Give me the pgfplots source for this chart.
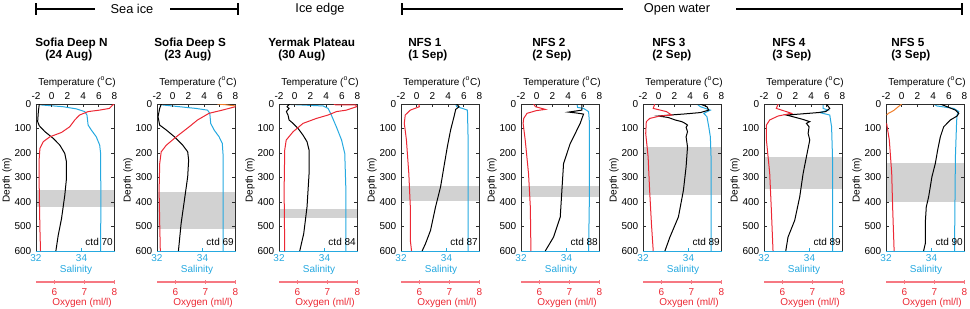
\documentclass[border=0pt]{standalone}
\usepackage{fontspec}
\setmainfont{Liberation Sans}
\usepackage{pgfplots}
\pgfplotsset{compat=1.18}
\definecolor{salblue}{RGB}{38,169,224}
\definecolor{oxred}{RGB}{236,40,52}
\definecolor{oxpink}{RGB}{246,120,130}
\definecolor{orng}{RGB}{240,125,40}
\definecolor{bandgray}{RGB}{210,210,210}
\definecolor{frame}{RGB}{45,45,45}
\pgfplotsset{
  base/.style={scale only axis, width=58.875pt, height=110.25pt, anchor=north west,
    ymin=0, ymax=600, y dir=reverse, /pgf/number format/assume math mode=true,
    tick label style={font=\fontsize{7.5}{8}\selectfont}, major tick length=2.5pt,
    every tick/.style={line width=0.5pt, draw=frame}},
  salax/.style={base, axis on top, xmin=32, xmax=35.45, xtick={32,34}, xtick pos=bottom,
    separate axis lines, axis line style={line width=0.6pt},
    x axis line style={draw=salblue}, y axis line style={draw=frame},
    x tick label style={text=salblue, yshift=1pt}, x tick style={draw=salblue},
    ytick={0,100,...,600}, ytick pos=both, yticklabel pos=left},
  tempax/.style={base, xmin=-2, xmax=8, xtick={-2,0,2,4,6,8}, axis x line*=top, axis y line=none,
    x axis line style={-, draw=frame, line width=0.6pt}},
  oxax/.style={base, xmin=5.39, xmax=8, hide axis},
  oxaxis/.style={base, height=133.5pt, ymin=0, ymax=1, y dir=normal, xmin=5.39, xmax=8, xtick={6,7,8},
    axis x line=bottom, axis y line=none, x axis line style={-, draw=oxpink, line width=0.8pt},
    x tick label style={text=oxred}, x tick style={draw=oxpink}},
  sp/.style={salblue, line width=0.75pt},
  tp/.style={black, line width=0.75pt},
  op/.style={oxred, line width=0.75pt},
  orp/.style={orng, line width=0.75pt},
}
\newcommand{\panel}[7]{%
\begin{axis}[salax, at={(#1,-78pt)}]
\addplot[draw=none, fill=bandgray] coordinates {(32,#2)(35.45,#2)(35.45,#3)(32,#3)};
\addplot[sp] coordinates {#4};
\end{axis}
\begin{axis}[tempax, at={(#1,-78pt)}]
\addplot[tp] coordinates {#5};
\end{axis}
\begin{axis}[oxax, at={(#1,-78pt)}]
#7
\addplot[op] coordinates {#6};
\end{axis}
\begin{axis}[oxaxis, at={(#1,-78pt)}]
\end{axis}}
\begin{document}
\begin{tikzpicture}
\useasboundingbox (0,0) rectangle (727.5pt,-231pt);
% Sofia Deep N
\panel{27pt}{350}{420}
{(32.07,0)(32.25,4)(33.19,11)(33.78,20)(34.14,31)(34.24,45)(34.29,86)(34.43,106)(34.65,134)(34.80,168)(34.84,202)(34.85,400)(34.84,600)}
{(-1.58,0)(-1.70,31)(-1.79,72)(-1.58,89)(-0.86,113)(0.19,140)(1.04,168)(1.67,202)(1.88,236)(1.88,304)(1.67,372)(1.25,468)(0.83,536)(0.53,600)}
{(8.0,0)(7.94,4)(7.83,18)(7.50,25)(7.12,31)(6.84,45)(6.68,65)(6.51,93)(6.24,116)(5.85,134)(5.63,154)(5.52,181)(5.49,236)(5.50,372)(5.52,509)(5.54,600)}
{}
% Sofia Deep S
\panel{117.75pt}{360}{510}
{(32.04,0)(32.26,4)(33.71,18)(34.22,25)(34.32,38)(34.36,79)(34.51,106)(34.73,134)(34.87,161)(34.91,216)(34.91,600)}
{(-1.45,0)(-1.66,18)(-1.87,52)(-1.66,86)(-0.82,106)(0.23,134)(1.28,168)(1.91,195)(2.03,229)(1.91,297)(1.49,393)(1.07,488)(0.73,600)}
{(8.0,11)(7.56,25)(7.12,38)(6.74,65)(6.46,93)(6.03,134)(5.70,168)(5.53,195)(5.48,243)(5.46,352)(5.48,488)(5.50,600)}
{\addplot[orp] coordinates {(7.40,0)(7.67,3)(8.0,8)};}
% Yermak Plateau
\panel{209.25pt}{428}{465}
{(32.03,0)(32.76,3)(33.94,8)(34.16,18)(34.30,45)(34.52,93)(34.75,147)(34.89,202)(34.94,352)(34.94,600)}
{(-0.64,0)(-0.98,11)(-0.72,18)(-1.06,31)(-0.85,45)(-0.72,65)(-0.21,79)(0.43,100)(1.06,127)(1.57,154)(1.83,188)(1.83,284)(1.57,420)(1.15,529)(0.64,600)}
{(7.21,0)(7.28,4)(7.94,4)(7.97,11)(7.63,25)(7.30,31)(7.02,45)(6.63,59)(6.19,79)(5.86,113)(5.63,147)(5.58,188)(5.56,352)(5.58,600)}
{}
% NFS 1
\panel{300.75pt}{335}{395}
{(34.40,0)(34.45,11)(34.70,18)(34.92,25)(34.95,147)(34.95,600)}
{(5.09,0)(5.39,11)(4.97,22)(4.75,52)(4.32,106)(3.90,175)(3.47,256)(3.04,338)(2.40,420)(1.76,516)(1.12,570)(0.69,600)}
{(5.98,0)(6.00,11)(5.70,25)(5.53,45)(5.50,79)(5.57,147)(5.65,284)(5.70,420)(5.70,556)(5.74,600)}
{}
% NFS 2
\panel{390.75pt}{335}{380}
{(34.46,0)(34.49,14)(34.75,18)(34.97,31)(35.01,79)(35.01,352)(34.97,600)}
{(5.75,0)(5.75,25)(4.06,33)(4.90,36)(5.97,41)(5.75,60)(5.54,79)(4.91,120)(4.27,161)(3.42,243)(3.21,352)(3.00,461)(2.15,543)(1.09,600)}
{(5.81,0)(5.87,11)(6.20,22)(5.90,27)(5.59,38)(5.48,59)(5.46,79)(5.53,147)(5.64,284)(5.70,420)(5.72,600)}
{}
% NFS 3
\panel{482.25pt}{175}{370}
{(34.37,0)(34.52,11)(34.96,25)(34.67,38)(34.81,52)(34.89,93)(34.96,134)(34.99,216)(34.99,600)}
{(5.30,0)(6.15,11)(6.37,25)(5.30,35)(3.15,41)(1.43,45)(-0.07,49)(1.22,55)(2.08,65)(2.94,72)(3.36,79)(3.67,86)(3.49,95)(3.67,113)(3.49,134)(3.67,175)(3.49,256)(3.15,352)(2.51,461)(1.43,543)(0.79,600)}
{(5.78,0)(5.73,18)(6.17,31)(6.34,45)(5.95,49)(5.61,59)(5.50,72)(5.48,120)(5.56,216)(5.61,352)(5.67,488)(5.73,600)}
{}
% NFS 4
\panel{573pt}{215}{345}
{(34.60,0)(34.60,18)(34.82,25)(34.45,35)(34.89,45)(34.97,93)(35.01,216)(35.01,600)}
{(5.96,0)(6.38,18)(5.87,31)(4.89,35)(2.55,41)(0.85,45)(1.70,52)(2.98,63)(3.83,72)(3.40,79)(3.74,93)(3.62,120)(3.83,147)(3.40,216)(2.98,284)(2.55,379)(1.91,475)(1.06,543)(0.77,600)}
{(5.86,0)(5.80,18)(6.13,31)(6.30,38)(5.86,49)(5.58,65)(5.47,86)(5.47,147)(5.58,284)(5.63,420)(5.69,600)}
{}
% NFS 5
\panel{664.5pt}{240}{400}
{(34.09,0)(34.24,8)(34.98,18)(35.20,31)(35.12,45)(35.10,79)(35.05,216)(35.01,600)}
{(4.92,0)(5.78,11)(6.85,25)(7.27,38)(7.06,49)(6.21,65)(5.35,93)(4.92,134)(4.58,188)(4.28,243)(3.85,297)(3.43,379)(3.13,420)(3.00,488)(3.00,570)(2.79,600)}
{(5.41,79)(5.50,147)(5.58,284)(5.61,420)(5.66,600)}
{\addplot[orp] coordinates {(5.91,0)(5.80,11)(5.64,27)(5.47,38)(5.41,45)};}
\begin{scope}[x=0.75pt, y=-0.75pt]
\path (0,0) rectangle (970,308);
\draw[line width=1.3pt] (36,3)--(36,15) (36,9)--(95,9) (170,9)--(238,9) (238,3)--(238,15);
\draw[line width=1.3pt] (402,3)--(402,15) (402,9)--(623,9) (736,9)--(962,9) (962,3)--(962,15);
\begin{scope}[every node/.style={font=\fontsize{9.6}{11}\selectfont}]
\node at (132,9) {Sea ice};
\node at (320,9) {Ice edge};
\node at (677,9) {Open water};
\end{scope}
\begin{scope}[every node/.style={anchor=base west, inner sep=0pt, font=\bfseries\fontsize{8.8}{10}\selectfont}]
\node at (35,46) {Sofia Deep N}; \node at (45,58) {(24 Aug)};
\node at (154,46) {Sofia Deep S}; \node at (164,58) {(23 Aug)};
\node at (268,46) {Yermak Plateau}; \node at (278,58) {(30 Aug)};
\node at (408,46) {NFS 1}; \node at (408,58) {(1 Sep)};
\node at (532,46) {NFS 2}; \node at (532,58) {(2 Sep)};
\node at (652,46) {NFS 3}; \node at (652,58) {(2 Sep)};
\node at (772,46) {NFS 4}; \node at (772,58) {(3 Sep)};
\node at (891,46) {NFS 5}; \node at (891,58) {(3 Sep)};
\end{scope}
\foreach \L/\c in {36/70,157/69,279/84,401/87,521/88,643/89,764/89,886/90}{
  \node[anchor=base, inner sep=0pt, font=\fontsize{7.5}{8}\selectfont] at (\L+41,85) {Temperature (\textsuperscript{o}C)};
  \node[anchor=base, inner sep=0pt, text=salblue, font=\fontsize{7.5}{8}\selectfont] at (\L+40,272) {Salinity};
  \node[anchor=base, inner sep=0pt, text=oxred, font=\fontsize{7.5}{8}\selectfont] at (\L+46,305) {Oxygen (ml/l)};
  \node[rotate=90, inner sep=0pt, font=\fontsize{7.5}{8}\selectfont] at (\L-29,180) {Depth (m)};
  \node[anchor=base east, inner sep=0pt, font=\fontsize{7.5}{8}\selectfont] at (\L+77,245) {ctd \c};
}
\end{scope}
\end{tikzpicture}
\end{document}
